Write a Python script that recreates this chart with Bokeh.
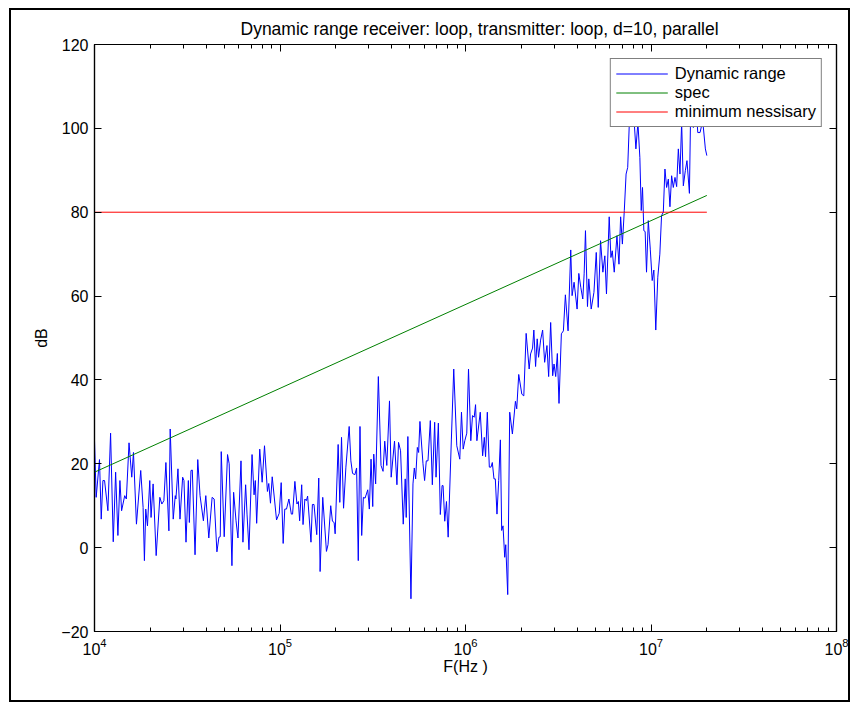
from bokeh.plotting import figure
from bokeh.models import (LogAxis, LinearAxis, Range1d, Legend, LegendItem,
                          FixedTicker, LogTicker)
from bokeh.embed import file_html
from bokeh.resources import INLINE

FONT = "Liberation Sans"

# Measured dynamic range of the loop/loop link (d=10, parallel)
freq_hz = [
    10000, 10210, 10640, 10870, 11100, 11330, 11810, 12210, 12620, 13000,
    13370, 13710, 14000, 14550, 14850, 15350, 15880, 16220, 16830, 17750,
    18280, 18580, 18890, 19300, 19860, 20180, 20700, 21500, 22500, 23070,
    23660, 24260, 25180, 25590, 26570, 27250, 27470, 28180, 28900, 29870,
    30360, 31140, 32060, 32460, 33120, 33670, 34830, 36030, 37070, 38640,
    39810, 41320, 43060, 44160, 45700, 46870,
    47640, 48220, 50030, 52140, 53220, 55060, 56230, 57940, 59340, 61620,
    63120, 65270, 66410, 68050, 70690, 72480, 73620, 74850, 77770, 80130,
    82500, 85560, 86980, 88850, 90780, 95800, 99020, 101500, 104000, 106100,
    108400, 111700, 115100, 116900, 120300, 123400, 125600, 127600, 130900, 133100,
    136200, 138700, 140900, 146900, 149500, 152500, 157800, 161800, 164500, 170000,
    178000, 181500, 187700, 191700, 195800, 198300, 205800, 210100, 214600, 220100,
    226600,
    236000, 241000, 246100, 253300, 258800, 264200, 269900, 275700, 281500, 287500,
    297200, 303100, 309600, 316200, 320200, 327800, 339000, 350400, 359400, 367000,
    376500, 389300, 397500, 414300, 426900, 435500, 446700, 461700, 473200, 479100,
    489000, 508000, 521000, 529700, 538500, 550000, 558800, 568100, 590000, 601900,
    614600, 627800, 646200, 662500, 682000, 693700, 714000, 731600, 747600, 757000,
    773000, 789600, 806400, 839300, 864200, 897500, 931500, 951300, 971600, 991600,
    1016000, 1038000, 1068000,
    1091000, 1114000, 1133000, 1152000, 1201000, 1237000, 1263000, 1283000, 1311000, 1344000,
    1372000, 1395000, 1424000, 1448000, 1478000, 1510000, 1542000, 1567000, 1593000, 1627000,
    1648000, 1689000, 1731000, 1790000, 1858000, 1889000, 1936000, 2012000, 2062000, 2123000,
    2204000, 2243000, 2299000, 2336000, 2387000, 2435000, 2477000, 2540000, 2605000, 2671000,
    2749000, 2807000, 2878000, 2951000, 3001000, 3064000, 3127000, 3192000, 3287000, 3371000,
    3455000, 3572000, 3693000, 3755000, 3849000, 3996000, 4081000, 4183000, 4288000, 4361000,
    4434000, 4545000, 4620000, 4760000,
    4925000, 5069000, 5195000, 5346000, 5502000, 5638000, 5754000, 5953000, 6080000, 6182000,
    6337000, 6553000, 6720000, 6860000, 7010000, 7180000, 7340000, 7490000, 7650000, 7810000,
    7980000, 8120000, 8290000, 8500000, 8710000, 8860000, 9000000, 9150000, 9300000, 9460000,
    9670000, 9910000, 10150000, 10360000, 10610000, 10880000, 11160000, 11400000, 11650000, 11890000,
    12140000, 12400000, 12650000, 12920000, 13190000, 13470000, 13750000, 14040000, 14330000, 14630000,
    14940000, 15310000, 15630000, 16110000, 16310000, 16580000, 16920000, 17370000, 17870000, 18380000,
    19000000, 19640000, 20000000,
]

dynamic_range_db = [
    25.5, 12, 21, 6.8, 16, 16, 8.8, 27.3, 1.4, 18,
    2.9, 16, 8.8, 12.4, 11.6, 25, 16.8, 22.7, 5.6, 18.4,
    9.6, -3.1, 9.2, 5.2, 16, 7.2, 15.2, -1.9, 12, 10.4,
    11.2, 20.3, 4, 28.3, 6.8, 12.4, 11.6, 18.8, 6.8, 16.8,
    16, 1.3, 16, 6, 18.4, 18.5, -1.7, 21, 12.4, 6.4,
    12.4, 2.3, 12, 11.6, -1, 2.5,
    2.6, 22.9, 2.6, 22.2, 20, -4.3, 13.2, 6.4, 2.3, 20.7,
    1.3, 15, 8, -0.5, 22.2, 12.6, 16, 5.8, 23.5, 15.6,
    24.3, 13.4, 15.3, 10.6, 16.9, 6.6, 8.2, 15.5, 1, 9.2,
    9.2, 11.6, 8, 8, 15.8, 10.4, 11, 6.4, 15, 5.5,
    11.6, 11.2, 12.3, 1.3, 10.3, 10.3, 3.1, 16.6, -5.7, 12,
    -0.9, 0.7, 10, 6.3, 6, 3.3, 24.6, 10.8, 26.3, 9.4,
    19.2,
    28.9, 20.7, 17.7, 17.4, 19, -3.1, 28.9, 2.9, 12, 11.8,
    13.8, 9.2, 21.1, 9.8, 22.3, 15.2, 40.8, 19.6, 18.2, 25.4,
    19.6, 35, 16.8, 25.4, 15, 25.1, 23.1, 5.6, 16.4, 7.2,
    26.5, -12.2, 15.2, 19, 16.4, 23.9, 22.7, 30.1, 20, 16,
    20.7, 20.7, 30.3, 15, 29.9, 16.8, 29.7, 7.9, 14.8, 14.8,
    6.3, 11, 2.5, 25.9, 42.6, 24.3, 21.1, 32.3, 23.5, 25.5,
    27.3, 42.6, 25.5,
    31.5, 31.1, 34.1, 25.5, 32.3, 21.9, 26.3, 21.7, 32.3, 19.2,
    19.2, 20.3, 16.4, 16.4, 8, 16, 25.7, 4.1, 5.2, -2.3,
    0.7, -11.2, 32.3, 27.1, 34.9, 33.1, 41.3, 36.6, 36.2, 51.1,
    42.6, 46.2, 47.6, 51.9, 43.2, 49.8, 45.4, 49.5, 51.9, 44.2,
    48.2, 40.8, 53.7, 41, 43.8, 40.8, 46.3, 34.4, 51, 51.7,
    60.3, 51.7, 71, 60.1, 63.3, 56.9, 65.4, 62.1, 59.3, 65.3,
    75.6, 57.5, 64.1, 56.9,
    60.9, 70.4, 57.3, 73.2, 65.7, 69.6, 60.5, 78.9, 69.2, 70.8,
    65.7, 74.4, 67.6, 78.9, 72.4, 80.4, 89.1, 90.7, 101.8, 112,
    106, 101.4, 95.1, 101.4, 93, 80.4, 85.9, 75.6, 75.4, 65.7,
    78, 71.2, 63.7, 66.2, 51.9, 64.5, 70, 79.2, 80, 90.3,
    85.9, 87.9, 81.3, 88.7, 85.9, 88.3, 86.1, 95.1, 89.1, 101.4,
    86.3, 89.9, 92.3, 84.5, 100.6, 102.6, 100.2, 108, 99, 99,
    101.8, 95.1, 93.5,
]

# Specification line (rises 20 dB per decade) and the required minimum
spec_freq_hz = [1e4, 2e7]
spec_db = [18, 84]
min_freq_hz = [1e4, 2e7]
min_db = [80, 80]

y_ticks = [-20, 0, 20, 40, 60, 80, 100, 120]

# The figure sits inside a thin black outline drawn around the whole canvas
p = figure(width=837, height=690, x_axis_type="log",
           x_range=Range1d(1e4, 1e8), y_range=Range1d(-20, 120),
           output_backend="svg", toolbar_location=None,
           min_border_left=83, min_border_right=12,
           min_border_top=34, min_border_bottom=69)
p.margin = (10, 0, 0, 11)
p.styles = {"outline": "2px solid black", "outline-offset": "0px"}

p.background_fill_color = "white"
p.border_fill_color = "white"
p.outline_line_color = "black"
p.outline_line_width = 1.2
p.xgrid.visible = False
p.ygrid.visible = False

p.title.text = "Dynamic range receiver: loop, transmitter: loop, d=10, parallel"
p.title.align = "left"
p.title.offset = 146
p.title.standoff = 12
p.title.text_font = FONT
p.title.text_font_size = "17.5px"
p.title.text_font_style = "normal"
p.title.text_color = "black"


def style_axis(ax, show_labels):
    ax.axis_line_color = "black"
    ax.axis_line_width = 1.2
    ax.major_tick_line_color = "black"
    ax.minor_tick_line_color = "black"
    ax.major_tick_in = 7
    ax.major_tick_out = 0
    ax.minor_tick_in = 4
    ax.minor_tick_out = 0
    ax.major_label_text_font = FONT
    if show_labels:
        ax.major_label_text_font_size = "16px"
        ax.major_label_text_color = "black"
        ax.major_label_standoff = 6
    else:
        # tick marks only on the opposite sides of the box
        ax.major_label_text_font_size = "1px"
        ax.major_label_text_alpha = 0
        ax.major_label_standoff = 0


xb = p.xaxis[0]
style_axis(xb, True)
xb.ticker = LogTicker(num_minor_ticks=10)
xb.axis_label = "F(Hz )"
xb.axis_label_text_font = FONT
xb.axis_label_text_font_size = "16px"
xb.axis_label_text_font_style = "normal"
xb.axis_label_text_color = "black"
xb.axis_label_standoff = 0

yl = p.yaxis[0]
style_axis(yl, True)
yl.ticker = FixedTicker(ticks=y_ticks, minor_ticks=[])
yl.axis_label = "dB"
yl.axis_label_text_font = FONT
yl.axis_label_text_font_size = "16px"
yl.axis_label_text_font_style = "normal"
yl.axis_label_text_color = "black"
yl.axis_label_standoff = 8

xt = LogAxis(ticker=LogTicker(num_minor_ticks=10))
style_axis(xt, False)
p.add_layout(xt, "above")

yr = LinearAxis(ticker=FixedTicker(ticks=y_ticks, minor_ticks=[]))
style_axis(yr, False)
p.add_layout(yr, "right")

r_dr = p.line(freq_hz, dynamic_range_db, line_color="#0000ff", line_width=1)
r_spec = p.line(spec_freq_hz, spec_db, line_color="#008000", line_width=1)
r_min = p.line(min_freq_hz, min_db, line_color="#ff0000", line_width=1)

legend = Legend(items=[
    LegendItem(label="Dynamic range", renderers=[r_dr]),
    LegendItem(label="spec", renderers=[r_spec]),
    LegendItem(label="minimum nessisary", renderers=[r_min]),
], location="top_right")
legend.margin = 14
legend.padding = 5
legend.spacing = 0
legend.glyph_width = 52
legend.glyph_height = 19
legend.label_height = 19
legend.label_standoff = 7
legend.label_text_font = FONT
legend.label_text_font_size = "16.5px"
legend.label_text_color = "black"
legend.border_line_color = "black"
legend.border_line_width = 1
legend.background_fill_color = "white"
legend.background_fill_alpha = 1
p.add_layout(legend)

open("out.html", "w").write(file_html(p, INLINE))
